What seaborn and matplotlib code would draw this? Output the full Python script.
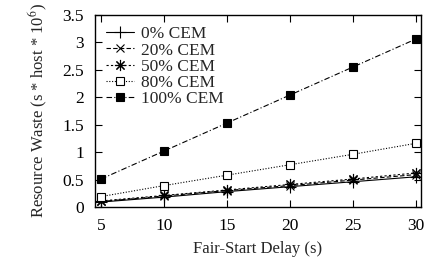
import matplotlib
matplotlib.use("Agg")
import matplotlib.pyplot as plt
import seaborn as sns
import pandas as pd

delays = [5, 10, 15, 20, 25, 30]
labels = ["0% CEM", "20% CEM", "50% CEM", "80% CEM", "100% CEM"]
cem0 = [0.09, 0.18, 0.28, 0.37, 0.46, 0.55]
cem20 = [0.10, 0.20, 0.30, 0.39, 0.49, 0.59]
cem50 = [0.11, 0.21, 0.31, 0.41, 0.51, 0.62]
cem80 = [0.19, 0.39, 0.58, 0.77, 0.96, 1.16]
cem100 = [0.51, 1.02, 1.53, 2.04, 2.55, 3.06]
series = [cem0, cem20, cem50, cem80, cem100]

sns.set_theme(style="ticks")
plt.rcParams['font.family'] = ['Liberation Serif', 'DejaVu Serif']
plt.rcParams['mathtext.fontset'] = 'stix'

fig = plt.figure(figsize=(4.37, 2.62), dpi=100)
ax = fig.add_axes([0.217, 0.21, 0.746, 0.733])

styles = [
    dict(marker="+", linestyle="-", ms=8, mfc="black"),
    dict(marker="x", linestyle=(0, (4, 2)), ms=5.5, mfc="black"),
    dict(marker=(8, 2, 0), linestyle=(0, (2, 2)), ms=8, mfc="black"),
    dict(marker="s", linestyle=(0, (1, 1.5)), ms=6, mfc="white"),
    dict(marker="s", linestyle=(0, (5, 2, 1, 2)), ms=6, mfc="black"),
]
for lab, vals, st in zip(labels, series, styles):
    df = pd.DataFrame({"x": delays, "y": vals})
    sns.lineplot(data=df, x="x", y="y", ax=ax, color="black", lw=0.8,
                 marker=st["marker"], linestyle=st["linestyle"],
                 markersize=st["ms"], markerfacecolor=st["mfc"],
                 markeredgecolor="black", markeredgewidth=0.8, label=lab)

ax.set_xlim(4.5, 30.4)
ax.set_ylim(0, 3.5)
ax.set_xticks(delays)
ax.set_yticks([0, 0.5, 1, 1.5, 2, 2.5, 3, 3.5])
ax.set_yticklabels(["0", "0.5", "1", "1.5", "2", "2.5", "3", "3.5"])
ax.tick_params(direction="in", top=True, right=True, length=5, width=0.8,
               labelsize=12.5, pad=8, colors="black")
for s in ax.spines.values():
    s.set_linewidth(1.0)
    s.set_color("black")
ax.set_xlabel("Fair-Start Delay (s)", fontsize=12, labelpad=5)
ax.set_ylabel("Resource Waste (s * host * 10$^6$)", fontsize=12, labelpad=9)
leg = ax.legend(loc="upper left", frameon=False, fontsize=12.5, handlelength=1.6,
                handletextpad=0.4, labelspacing=0.0, borderaxespad=0.3,
                borderpad=0.35)

fig.savefig("out.png", dpi=100)
